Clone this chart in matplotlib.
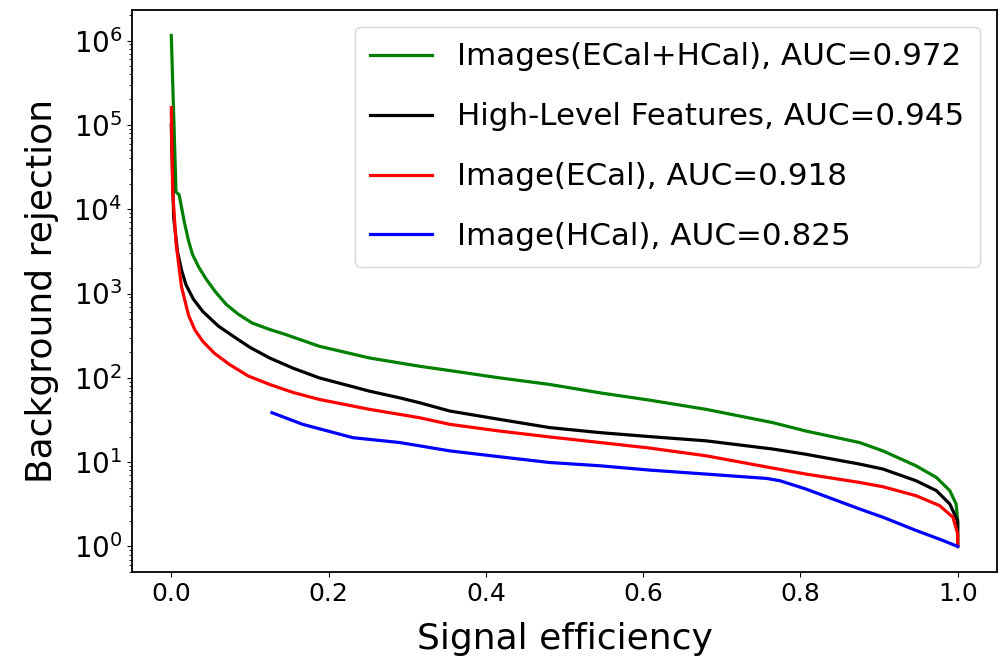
import numpy as np
import matplotlib
matplotlib.use("Agg")
import matplotlib.pyplot as plt

# ROC-style curves: signal efficiency vs background rejection
eff_both = [0.0, 0.006, 0.010, 0.0165, 0.022, 0.027, 0.035, 0.044, 0.056, 0.070,
            0.085, 0.103, 0.125, 0.146, 0.188, 0.252, 0.316, 0.354, 0.417, 0.481,
            0.545, 0.608, 0.680, 0.765, 0.807, 0.875, 0.905, 0.947, 0.973, 0.990,
            0.998, 1.0, 1.0]
rej_both = [1.15e6, 1.6e4, 1.48e4, 7.1e3, 4.2e3, 2.9e3, 2.05e3, 1.5e3, 1.05e3, 741,
            570, 446, 375, 325, 237, 172, 137, 122, 100, 83.5,
            66.4, 54.4, 42.3, 29.4, 23.4, 17.1, 13.6, 9.05, 6.58, 4.59,
            3.19, 2.03, 1.0]

eff_hlf = [0.0, 0.003, 0.008, 0.013, 0.0187, 0.028, 0.040, 0.060, 0.082, 0.100,
           0.125, 0.155, 0.188, 0.252, 0.290, 0.316, 0.354, 0.417, 0.481, 0.545,
           0.608, 0.680, 0.765, 0.807, 0.875, 0.905, 0.947, 0.973, 0.990, 1.0, 1.0]
rej_hlf = [1.0e5, 8.0e3, 3.1e3, 1.9e3, 1.27e3, 860, 613, 410, 297, 230,
           172, 130, 100, 69.5, 58, 50.6, 40.4, 32.2, 25.7, 22.4,
           20.1, 17.9, 14.3, 12.4, 9.5, 8.28, 6.02, 4.59, 3.19, 2.0, 1.0]

eff_ecal = [0.0, 0.0017, 0.006, 0.013, 0.022, 0.030, 0.040, 0.055, 0.074, 0.098,
            0.125, 0.155, 0.188, 0.252, 0.290, 0.316, 0.354, 0.417, 0.481, 0.545,
            0.608, 0.680, 0.765, 0.807, 0.875, 0.905, 0.947, 0.977, 0.994, 1.0, 1.0]
rej_ecal = [1.6e5, 1.7e4, 4.0e3, 1.2e3, 550, 370, 271, 195, 144, 105,
            83.5, 67, 55.5, 42.3, 36.9, 33.6, 28.1, 23.4, 19.9, 17.1,
            14.7, 11.9, 8.5, 7.22, 5.75, 5.11, 4.0, 3.05, 2.22, 1.41, 1.0]

eff_hcal = [0.128, 0.167, 0.231, 0.290, 0.316, 0.354, 0.417, 0.481, 0.545, 0.608,
            0.680, 0.757, 0.774, 0.807, 0.875, 0.905, 0.947, 0.981, 1.0]
rej_hcal = [38.6, 28.1, 19.5, 17.1, 15.6, 13.6, 11.6, 9.9, 9.06, 8.05,
            7.22, 6.41, 6.02, 4.8, 2.79, 2.22, 1.55, 1.18, 1.0]

labels = ["Images(ECal+HCal), AUC=0.972",
          "High-Level Features, AUC=0.945",
          "Image(ECal), AUC=0.918",
          "Image(HCal), AUC=0.825"]

fig = plt.figure(figsize=(10.02, 6.59), dpi=100)
ax = fig.add_axes([0.1317, 0.132, 0.8633, 0.853])

ax.plot(eff_both, rej_both, color="green", lw=2.3, label=labels[0])
ax.plot(eff_hlf, rej_hlf, color="black", lw=2.3, label=labels[1])
ax.plot(eff_ecal, rej_ecal, color="red", lw=2.3, label=labels[2])
ax.plot(eff_hcal, rej_hcal, color="blue", lw=2.3, label=labels[3])

ax.set_yscale("log")
ax.set_xlabel("Signal efficiency", fontsize=26, labelpad=12)
ax.set_ylabel("Background rejection", fontsize=26, labelpad=10)
ax.tick_params(axis="x", labelsize=18)
ax.tick_params(axis="y", labelsize=20)
for s in ax.spines.values():
    s.set_linewidth(1.3)

ax.legend(loc="upper right", fontsize=22.3, labelspacing=1.0,
          borderpad=0.5, borderaxespad=0.55)

fig.savefig("out.png", dpi=100)
